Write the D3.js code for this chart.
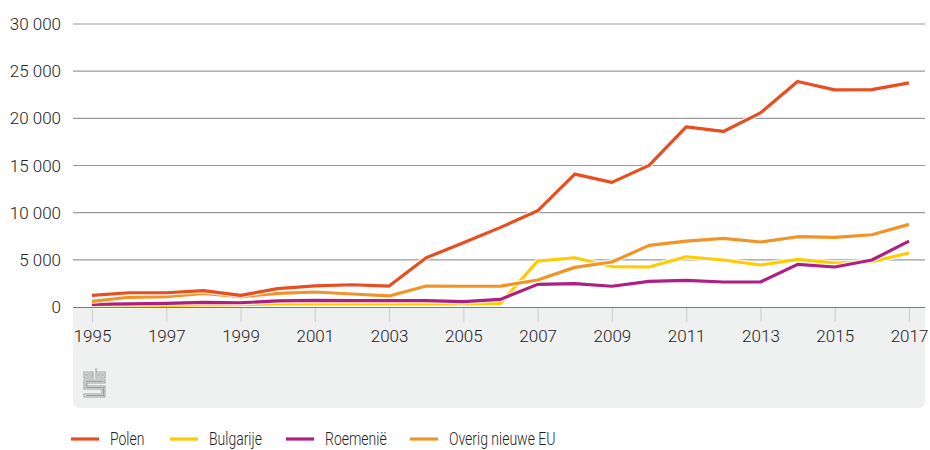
<!DOCTYPE html>
<html><head><meta charset="utf-8">
<script src="https://cdn.jsdelivr.net/npm/d3@7"></script>
<style>body{margin:0;background:#fff;}svg{display:block;font-family:Roboto,"Open Sans",sans-serif;}text{font-weight:300;}</style>
</head><body><svg id="c" width="930" height="450"></svg>
<script>
const years = d3.range(1995, 2018);
const polen =     [1240,1510,1510,1730,1240,1940,2230,2360,2220,5220,6810,8440,10200,14090,13210,15010,19100,18610,20580,23910,23020,23040,23760];
const bulgarije = [70,120,180,230,250,320,330,330,330,330,330,390,4870,5220,4290,4240,5330,4980,4450,5050,4660,4800,5720];
const roemenie =  [280,330,390,500,450,640,700,670,670,670,560,810,2400,2470,2200,2720,2830,2650,2650,4520,4240,4980,6990];
const overig =    [600,1030,1090,1450,1090,1450,1590,1380,1170,2220,2200,2220,2860,4200,4770,6530,6990,7270,6890,7450,7380,7660,8760];
const seriesNames = ["Polen","Bulgarije","Roemenië","Overig nieuwe EU"];
const yTicks = [0,5000,10000,15000,20000,25000,30000];
const xTicks = [1995,1997,1999,2001,2003,2005,2007,2009,2011,2013,2015,2017];

const colors = {"Polen":"#e84e1f","Bulgarije":"#ffcc00","Roemenië":"#af1e82","Overig nieuwe EU":"#f39325"};
const data = {"Polen":polen,"Bulgarije":bulgarije,"Roemenië":roemenie,"Overig nieuwe EU":overig};

const svg = d3.select("#c");
const left = 73, right = 925;
const x = d3.scaleLinear().domain([1995,2017]).range([92,909]);
const y = d3.scaleLinear().domain([0,30000]).range([307,24]);
const fmt = v => d3.format(",")(v).replace(/,/g, " ");

// grey panel below axis
svg.append("path")
  .attr("d", `M${left},307 H${right} V402 a6,6 0 0 1 -6,6 H${left+6} a6,6 0 0 1 -6,-6 Z`)
  .attr("fill","#eff0f0");

// gridlines
svg.append("g").selectAll("line").data(yTicks.filter(d=>d>0)).join("line")
  .attr("x1",left).attr("x2",right).attr("y1",d=>y(d)).attr("y2",d=>y(d))
  .attr("stroke","#9a9a9a").attr("stroke-width",1.2);

// y labels
svg.append("g").selectAll("text").data(yTicks).join("text")
  .attr("x",61).attr("y",d=>y(d)+6).attr("text-anchor","end")
  .attr("font-size",17).attr("fill","#222").text(d=>fmt(d));

// x ticks
const xAxis = d3.axisBottom(x).tickValues(xTicks).tickFormat(d3.format("d")).tickSize(15).tickPadding(8);
const gx = svg.append("g").attr("transform","translate(0,307)").call(xAxis);
gx.select(".domain").remove();
gx.selectAll(".tick line").attr("stroke","#d0d0d0").attr("stroke-width",1.2);
gx.selectAll(".tick text").attr("font-size",17).attr("fill","#222").attr("font-family","Roboto,'Open Sans',sans-serif");

// lines
const line = d3.line().x((d,i)=>x(years[i])).y(d=>y(d));
const order = ["Bulgarije","Roemenië","Overig nieuwe EU","Polen"];
const lg = svg.append("g");
order.forEach(name=>{
  lg.append("path").datum(data[name]).attr("d",line).attr("fill","none")
    .attr("stroke","#fff").attr("stroke-width",5.5).attr("stroke-linejoin","round").attr("opacity",0.8);
  lg.append("path").datum(data[name]).attr("d",line).attr("fill","none")
    .attr("stroke",colors[name]).attr("stroke-width",3.2).attr("stroke-linejoin","round");
});

// zero axis line
svg.append("line").attr("x1",left).attr("x2",right).attr("y1",y(0)+0.5).attr("y2",y(0)+0.5)
  .attr("stroke","#7a7a7a").attr("stroke-width",1.2);

// cbs logo
const logo = svg.append("g").attr("transform","translate(84,368)").attr("fill","none").attr("stroke","#a0a0a0").attr("stroke-width",1.1);
logo.append("path").attr("d","M0,4 H9 V10 H0 Z");
logo.append("path").attr("d","M2,6 H9 M2,6 V8 H9");
logo.append("path").attr("d","M12,0 V10 H21 V4 H12 M14,6 H19 V8 H14 Z");
logo.append("path").attr("d","M0,12 H21 V15 H3 V18 H21 V29 H0 V26 H18 V21 H0 Z");
logo.append("path").attr("d","M2,13.5 H19.5 M2,13.5 V19.5 H19.5 V27.5 H2");

// legend
const legX = [71,170,286,410];
const lgd = svg.append("g");
seriesNames.forEach((n,i)=>{
  lgd.append("line").attr("x1",legX[i]).attr("x2",legX[i]+28).attr("y1",439).attr("y2",439)
    .attr("stroke",colors[n]).attr("stroke-width",3.2);
  lgd.append("text").attr("transform",`translate(${legX[i]+39},445) scale(0.8,1)`)
    .attr("font-size",17.5).attr("fill","#222").text(n);
});
</script></body></html>
